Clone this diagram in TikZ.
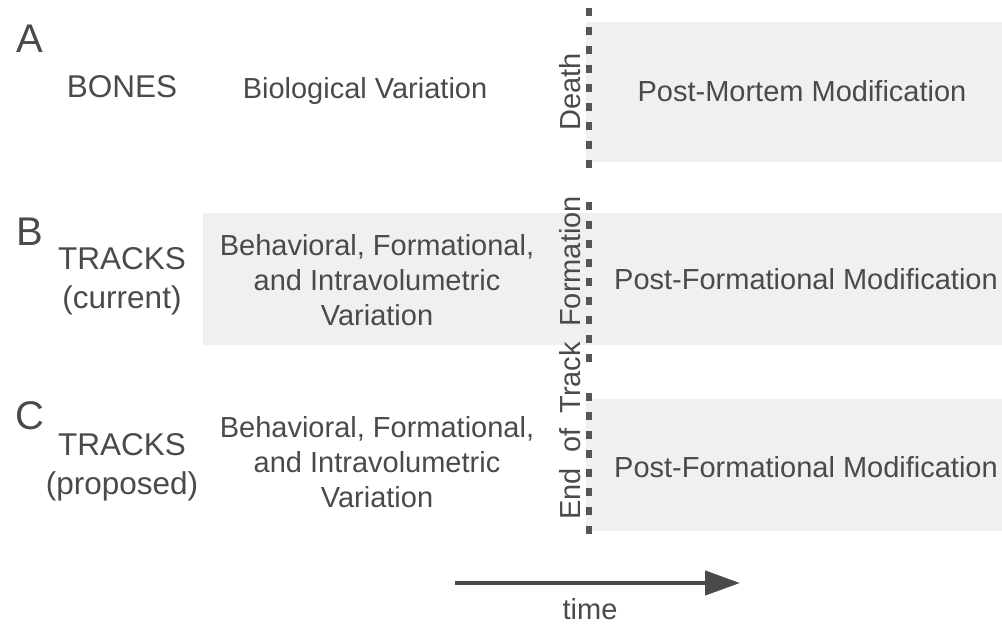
\documentclass[tikz,border=0pt]{standalone}
\usepackage{fontspec}
\setmainfont{Liberation Sans}
\usetikzlibrary{arrows.meta}
\definecolor{txt}{HTML}{4A4A4A}
\definecolor{boxgray}{HTML}{F0F0F0}
\definecolor{dashgray}{HTML}{555555}
\tikzset{
  lbl/.style={text=txt, font=\fontsize{29}{35}\selectfont, align=center, inner sep=0pt},
  rowlbl/.style={lbl, font=\fontsize{31.5}{39}\selectfont},
  letter/.style={text=txt, font=\fontsize{40}{44}\selectfont, inner sep=0pt},
  vlbl/.style={lbl, rotate=90},
  band/.style={fill=boxgray, draw=none},
  divider/.style={draw=dashgray, line width=6pt, dash pattern=on 8pt off 11pt},
  timearrow/.style={draw=txt, line width=4.5pt, -{Triangle[length=35pt,width=24pt]}}
}
\begin{document}
\begin{tikzpicture}[x=1pt,y=-1pt]
\useasboundingbox (0,0) rectangle (1002,624);
% bands
\fill[band] (586,22) rectangle (1002,162);
\fill[band] (203,213) rectangle (1002,345);
\fill[band] (586,399) rectangle (1002,531);
% dividers
\coordinate (d1a) at (589,8);
\coordinate (d1b) at (589,172);
\coordinate (d2a) at (589,202);
\coordinate (d2b) at (589,364);
\coordinate (d3a) at (589,393);
\coordinate (d3b) at (589,537);
\draw[divider] (d1a) -- (d1b);
\draw[divider] (d2a) -- (d2b);
\draw[divider] (d3a) -- (d3b);
% letters
\node[letter] (A) at (30,39) {A};
\node[letter] (B) at (30,232) {B};
\node[letter] (C) at (30,416) {C};
% row labels
\node[rowlbl] (bones) at (122,87) {BONES};
\node[rowlbl] (tcur) at (122,281) {TRACKS\\(current)};
\node[rowlbl] (tprop) at (122,467) {TRACKS\\(proposed)};
% left texts
\node[lbl] (bio) at (365,91) {Biological Variation};
\node[lbl] (behB) at (377,280) {Behavioral, Formational,\\and Intravolumetric\\Variation};
\node[lbl] (behC) at (377,462) {Behavioral, Formational,\\and Intravolumetric\\Variation};
% right texts
\node[lbl] (pmm) at (802,91) {Post-Mortem Modification};
\node[lbl] (pfmB) at (806,279) {Post-Formational Modification};
\node[lbl] (pfmC) at (806,467) {Post-Formational Modification};
% rotated
\node[vlbl] (death) at (570,92) {Death};
\node[vlbl] (endtf) at (570,358) {End\hspace{0.25em} of\hspace{0.25em} Track\hspace{0.25em} Formation};
% time arrow
\coordinate (t0) at (455,583);
\coordinate (t1) at (740,583);
\draw[timearrow] (t0) -- (t1);
\node[lbl] (time) at (590,609) {time};
\end{tikzpicture}
\end{document}
